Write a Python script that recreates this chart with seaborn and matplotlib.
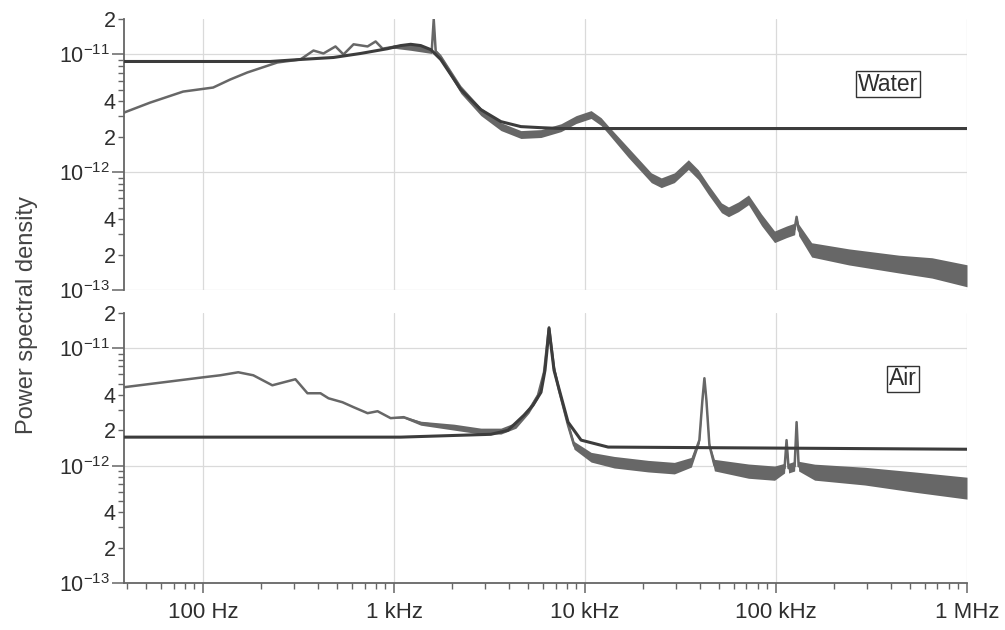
import numpy as np
import matplotlib
matplotlib.use('Agg')
import matplotlib.pyplot as plt
import seaborn as sns
from matplotlib.ticker import FixedLocator, FuncFormatter, NullFormatter

# ---- measured spectrum in water (centre of the noisy trace + band spread factor)
water_freq = [38.5, 52.7, 78.5, 112.8, 138.6, 170.2, 244.6, 323, 378, 426.6,
              493, 543, 613, 726, 800, 870, 1018, 1221, 1464, 1573,
              1612, 1651, 1754, 2234, 2845, 3624, 4613, 5875, 7482, 8971,
              10750, 12130, 13200, 16820, 22210, 25060, 29330, 34730, 39190, 44230,
              51760, 56330, 63550, 71720, 83930, 98200, 113500, 125100, 128100, 131300,
              153600, 240300, 439500, 655000, 1e6]
water_psd = [3.21e-12, 3.90e-12, 4.84e-12, 5.24e-12, 6.13e-12, 7.03e-12, 8.55e-12, 9.07e-12, 1.08e-11, 1.02e-11,
             1.17e-11, 1.00e-11, 1.22e-11, 1.17e-11, 1.29e-11, 1.12e-11, 1.17e-11, 1.15e-11, 1.10e-11, 1.06e-11,
             1.99e-11, 1.06e-11, 9.43e-12, 5.04e-12, 3.27e-12, 2.44e-12, 2.09e-12, 2.13e-12, 2.39e-12, 2.80e-12,
             3.09e-12, 2.69e-12, 2.30e-12, 1.47e-12, 8.98e-13, 8.14e-13, 8.98e-13, 1.16e-12, 9.52e-13, 7.10e-13,
             4.99e-13, 4.61e-13, 5.09e-13, 5.83e-13, 3.94e-13, 2.83e-13, 3.12e-13, 3.30e-13, 4.18e-13, 3.24e-13,
             2.19e-13, 1.91e-13, 1.66e-13, 1.54e-13, 1.32e-13]
water_spread = [1.0, 1.0, 1.0, 1.0, 1.0, 1.0, 1.0, 1.0, 1.0, 1.0,
                1.0, 1.0, 1.0, 1.0, 1.0, 1.0, 1.04, 1.06, 1.06, 1.04,
                1.0, 1.04, 1.06, 1.08, 1.08, 1.08, 1.08, 1.08, 1.08, 1.08,
                1.08, 1.08, 1.08, 1.10, 1.10, 1.10, 1.10, 1.10, 1.10, 1.10,
                1.10, 1.10, 1.10, 1.10, 1.12, 1.12, 1.12, 1.12, 1.0, 1.12,
                1.15, 1.17, 1.19, 1.22, 1.24]

# ---- fitted model, water
water_fit_freq = [38.5, 96.4, 224.7, 323, 481.4, 667.3, 924.5, 1082, 1221, 1378,
                  1555, 1754, 2234, 2845, 3624, 4613, 5875, 7482, 1e6]
water_fit_psd = [8.72e-12, 8.72e-12, 8.72e-12, 9.07e-12, 9.43e-12, 1.02e-11, 1.12e-11, 1.19e-11, 1.22e-11, 1.19e-11,
                 1.10e-11, 9.07e-12, 5.04e-12, 3.40e-12, 2.69e-12, 2.44e-12, 2.39e-12, 2.35e-12, 2.35e-12]

# ---- measured spectrum in air
air_freq = [38.5, 100, 122.8, 152.6, 183.0, 230.2, 304.1, 351.6, 411.4, 453.2,
            536.6, 613, 726, 819, 958.7, 1122, 1378, 2053, 2845, 3624,
            4344, 5082, 5665, 6093, 6472, 6876, 7304, 8141, 8757, 10750,
            14200, 21410, 29330, 36020, 39670, 41140, 42150, 43180, 44770, 47560,
            71720, 98200, 110800, 113500, 116300, 125100, 128100, 131300, 159300, 291500,
            533300, 1e6]
air_psd = [4.66e-12, 5.66e-12, 5.89e-12, 6.25e-12, 5.89e-12, 4.84e-12, 5.45e-12, 4.14e-12, 4.14e-12, 3.75e-12,
           3.47e-12, 3.15e-12, 2.80e-12, 2.91e-12, 2.54e-12, 2.59e-12, 2.30e-12, 2.13e-12, 1.97e-12, 1.97e-12,
           2.21e-12, 2.97e-12, 3.98e-12, 6.25e-12, 1.51e-11, 6.76e-12, 4.39e-12, 2.21e-12, 1.49e-12, 1.18e-12,
           1.07e-12, 9.90e-13, 9.52e-13, 1.07e-12, 1.65e-12, 3.61e-12, 5.56e-12, 3.61e-12, 1.49e-12, 1.01e-12,
           8.98e-13, 8.63e-13, 9.52e-13, 1.65e-12, 9.52e-13, 9.90e-13, 2.35e-12, 9.90e-13, 8.80e-13, 8.14e-13,
           7.24e-13, 6.43e-13]
air_spread = [1.0, 1.0, 1.0, 1.0, 1.0, 1.0, 1.0, 1.0, 1.0, 1.0,
              1.0, 1.0, 1.0, 1.0, 1.0, 1.02, 1.04, 1.06, 1.06, 1.06,
              1.06, 1.06, 1.06, 1.06, 1.04, 1.06, 1.06, 1.08, 1.08, 1.10,
              1.12, 1.12, 1.12, 1.10, 1.06, 1.04, 1.0, 1.04, 1.06, 1.12,
              1.15, 1.15, 1.10, 1.0, 1.10, 1.10, 1.0, 1.10, 1.17, 1.19,
              1.22, 1.24]

# ---- fitted model, air
air_fit_freq = [38.5, 1082, 3211, 3943, 4785, 5333, 5875, 6166, 6317, 6472,
                6630, 6876, 7216, 8141, 9529, 13200, 1e6]
air_fit_psd = [1.75e-12, 1.75e-12, 1.85e-12, 2.00e-12, 2.69e-12, 3.27e-12, 4.22e-12, 6.50e-12, 9.62e-12, 1.48e-11,
               1.06e-11, 6.50e-12, 4.84e-12, 2.35e-12, 1.65e-12, 1.44e-12, 1.38e-12]

x_ticks = [100, 1e3, 1e4, 1e5, 1e6]
x_labels = ['100 Hz', '1 kHz', '10 kHz', '100 kHz', '1 MHz']
y_decades = [1e-13, 1e-12, 1e-11]

sns.set_theme(style='white')
plt.rcParams['font.family'] = ['Liberation Sans', 'DejaVu Sans']
plt.rcParams['mathtext.fontset'] = 'custom'
plt.rcParams['mathtext.rm'] = 'Liberation Sans'
plt.rcParams['mathtext.it'] = 'Liberation Sans:italic'

data_col = '#676767'
fit_col = '#3c3c3c'
axis_col = '#666666'
text_col = '#2e2e2e'

fig = plt.figure(figsize=(10.05, 6.3), dpi=100)
ax_w = fig.add_axes([0.1234, 0.5397, 0.8388, 0.4301])
ax_a = fig.add_axes([0.1234, 0.0746, 0.8388, 0.4286], sharex=ax_w)

# minor ticks only inside the plotted range
y_minor = [k * d for d in y_decades[:2] for k in range(2, 10)] + [2e-11]
x_minor = [k * 10.0 ** e for e in range(1, 6) for k in range(2, 10) if 38.5 <= k * 10.0 ** e <= 1e6]


def minor_fmt(v, pos):
    m = v / 10 ** np.floor(np.log10(v) + 1e-9)
    k = int(round(m))
    return str(k) if k in (2, 4) else ''


for ax, f, p, s, ff, fp, name, pos in [
        (ax_w, water_freq, water_psd, water_spread, water_fit_freq, water_fit_psd, 'Water', (0.906, 0.76)),
        (ax_a, air_freq, air_psd, air_spread, air_fit_freq, air_fit_psd, 'Air', (0.924, 0.756))]:
    ax.set_xscale('log')
    ax.set_yscale('log')
    f = np.array(f)
    p = np.array(p)
    s = np.array(s)
    ax.fill_between(f, p / s, p * s, color=data_col, lw=0, zorder=2)
    sns.lineplot(x=f, y=p, ax=ax, color=data_col, lw=1.8, estimator=None, sort=False, zorder=3)
    sns.lineplot(x=ff, y=fp, ax=ax, color=fit_col, lw=2.2, estimator=None, sort=False, zorder=4)

    ax.set_xlim(38.5, 1e6)
    ax.set_ylim(1e-13, 2e-11)

    ax.yaxis.set_major_locator(FixedLocator(y_decades))
    ax.yaxis.set_major_formatter(FuncFormatter(lambda v, _: r'$10^{%d}$' % round(np.log10(v))))
    ax.yaxis.set_minor_locator(FixedLocator(y_minor))
    ax.yaxis.set_minor_formatter(FuncFormatter(minor_fmt))

    ax.xaxis.set_major_locator(FixedLocator(x_ticks))
    ax.xaxis.set_major_formatter(FuncFormatter(lambda v, _: ''))
    ax.xaxis.set_minor_locator(FixedLocator(x_minor))
    ax.xaxis.set_minor_formatter(NullFormatter())

    ax.tick_params(axis='y', which='major', length=9, width=1.1, color=axis_col,
                   labelsize=15.5, labelcolor=text_col, pad=1, left=True)
    ax.tick_params(axis='y', which='minor', length=4.5, width=1.0, color=axis_col,
                   labelsize=15.5, labelcolor=text_col, pad=1.5, left=True)

    ax.grid(True, which='major', color='#dadada', lw=0.9)
    ax.set_axisbelow(True)
    for side in ['top', 'right']:
        ax.spines[side].set_visible(False)
    ax.spines['left'].set_color(axis_col)
    ax.spines['left'].set_linewidth(1.3)
    ax.spines['bottom'].set_color(axis_col)
    ax.spines['bottom'].set_linewidth(1.3)
    ax.set_xlabel('')
    ax.set_ylabel('')

    ax.text(pos[0], pos[1], name, transform=ax.transAxes, ha='center', va='center',
            fontsize=16.5, color=text_col,
            bbox=dict(boxstyle='square,pad=0.08', fc='white', ec='#333333', lw=1.0))

# top panel: no x axis drawn
ax_w.spines['bottom'].set_visible(False)
ax_w.tick_params(axis='x', which='both', bottom=False, labelbottom=False)

# bottom panel: frequency labels
ax_a.xaxis.set_major_formatter(FuncFormatter(lambda v, _: dict(zip(x_ticks, x_labels)).get(v, '')))
ax_a.tick_params(axis='x', which='major', length=7.5, width=1.1, color=axis_col,
                 labelsize=16, labelcolor=text_col, pad=6, bottom=True)
ax_a.tick_params(axis='x', which='minor', length=4, width=1.0, color=axis_col, bottom=True)

fig.text(0.027, 0.5, 'Power spectral density', rotation=90, ha='center', va='center',
         fontsize=17, color='#444444')

fig.savefig('out.png', dpi=100)
